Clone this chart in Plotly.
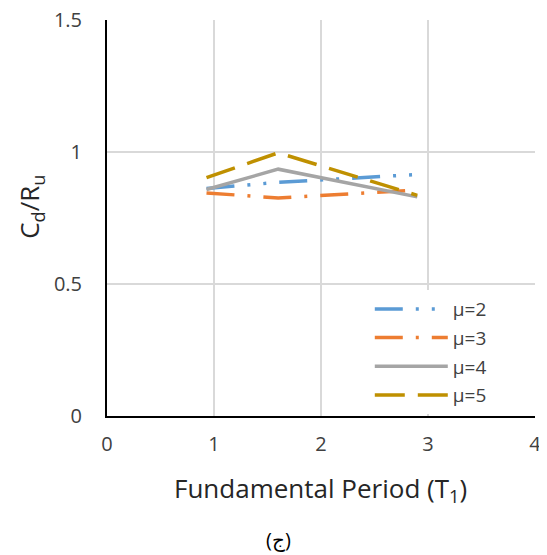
import plotly.graph_objects as go

period = [0.93, 1.6, 2.9]
mu2 = [0.862, 0.885, 0.915]
mu3 = [0.845, 0.826, 0.856]
mu4 = [0.858, 0.935, 0.830]
mu5 = [0.903, 0.997, 0.836]
names = ["μ=2", "μ=3", "μ=4", "μ=5"]
colors = ["#5B9BD5", "#ED7D31", "#A5A5A5", "#BF9000"]
dashes = ["28px,13px,3px,13px,3px,13px", "28px,13px,3px,13px", "solid", "30px,13px"]
x_ticks = [0, 1, 2, 3, 4]
y_ticks = [0, 0.5, 1, 1.5]
y_tick_text = ["0", "0.5", "1", "1.5"]

FONT = "Open Sans"
fig = go.Figure()
for name, ys, c, d in zip(names, [mu2, mu3, mu4, mu5], colors, dashes):
    fig.add_trace(go.Scatter(x=period, y=ys, mode="lines", name=name, legendgroup=name,
                             line=dict(color=c, width=3.5, dash=d)))

fig.update_layout(
    width=539, height=547,
    margin=dict(l=99, r=12, t=12, b=139),
    paper_bgcolor="white", plot_bgcolor="white",
    font=dict(family=FONT, size=20, color="#404040"),
    showlegend=True,
    legend=dict(x=0.614, y=0.318, xanchor="left", yanchor="top",
                bgcolor="white", font=dict(size=19, color="#404040"),
                itemwidth=73, tracegroupgap=1),
    annotations=[
        dict(text="C<sub>d</sub>/R<sub>u</sub>", x=-0.18, xref="paper", y=0.528, yref="paper",
             xanchor="center", yanchor="middle", showarrow=False, textangle=-90,
             font=dict(family=FONT, size=26, color="#262626")),
        dict(text="Fundamental Period (T<sub>1</sub>)", x=0.498, xref="paper", y=-0.184, yref="paper",
             xanchor="center", yanchor="middle", showarrow=False,
             font=dict(family=FONT, size=26, color="#262626")),
        dict(text="(ج)", x=0.40, xref="paper", y=-0.312, yref="paper",
             xanchor="center", yanchor="middle", showarrow=False,
             font=dict(family=FONT, size=20, color="#000000")),
    ],
)
fig.update_xaxes(range=[0, 4], tickvals=x_ticks, showgrid=True, gridcolor="#D9D9D9",
                 gridwidth=2, showline=True, linecolor="#000000", linewidth=2,
                 zeroline=False, ticks="", ticklabelstandoff=9, automargin=False,
                 ticklabeloverflow="allow")
fig.update_yaxes(range=[0, 1.5], tickvals=y_ticks, ticktext=y_tick_text, showgrid=True,
                 gridcolor="#D9D9D9", gridwidth=2, showline=True, linecolor="#000000",
                 linewidth=2, zeroline=False, ticks="", ticklabelstandoff=19, automargin=False,
                 ticklabeloverflow="allow")
fig.write_html("out.html")
